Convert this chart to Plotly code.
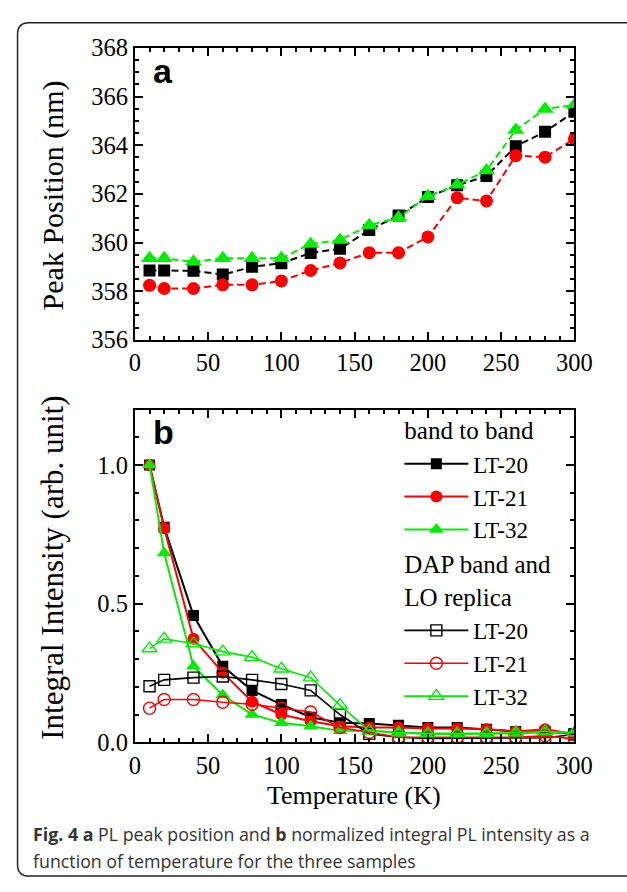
import plotly.graph_objects as go

W, H = 627, 892

temps = [10, 20, 40, 60, 80, 100, 120, 140, 160, 180, 200, 220, 240, 260, 280, 300]

# Panel a: peak position (nm)
peak_lt20 = [358.85, 358.85, 358.84, 358.68, 359.00, 359.15, 359.57, 359.74, 360.51, 361.11, 361.87, 362.35, 362.73, 363.96, 364.55, 365.38]
peak_lt21 = [358.24, 358.11, 358.11, 358.26, 358.26, 358.42, 358.85, 359.16, 359.58, 359.58, 360.23, 361.84, 361.71, 363.57, 363.51, 364.26]
peak_lt32 = [359.35, 359.35, 359.21, 359.35, 359.35, 359.35, 359.94, 360.10, 360.71, 361.03, 361.90, 362.37, 362.96, 364.63, 365.49, 365.65]

# Panel b: normalized integral intensity
band_lt20 = [1.0, 0.776, 0.457, 0.274, 0.187, 0.136, 0.090, 0.070, 0.068, 0.061, 0.053, 0.053, 0.047, 0.039, 0.039, 0.030]
band_lt21 = [1.0, 0.772, 0.373, 0.251, 0.146, 0.100, 0.076, 0.058, 0.053, 0.053, 0.050, 0.050, 0.047, 0.039, 0.047, 0.030]
band_lt32 = [1.0, 0.683, 0.274, 0.170, 0.100, 0.070, 0.058, 0.041, 0.041, 0.035, 0.030, 0.030, 0.030, 0.032, 0.035, 0.035]
dap_lt20 = [0.202, 0.225, 0.233, 0.237, 0.225, 0.210, 0.187, 0.100, 0.030, 0.018, 0.014, 0.014, 0.014, 0.014, 0.016, 0.028]
dap_lt21 = [0.123, 0.154, 0.154, 0.144, 0.137, 0.123, 0.109, 0.053, 0.035, 0.018, 0.018, 0.018, 0.018, 0.018, 0.023, 0.012]
dap_lt32 = [0.338, 0.373, 0.356, 0.327, 0.307, 0.265, 0.233, 0.134, 0.041, 0.035, 0.032, 0.032, 0.032, 0.035, 0.039, 0.035]

sample_names = ["LT-20", "LT-21", "LT-32"]
colors = ["#000000", "#ff0000", "#00ee00"]
filled_symbols = ["square", "circle", "triangle-up"]
open_symbols = ["square-open", "circle-open", "triangle-up-open"]
x_ticks = [0, 50, 100, 150, 200, 250, 300]
ya_ticks = [356, 358, 360, 362, 364, 366, 368]
yb_ticks = [0.0, 0.5, 1.0]
yb_ticklabels = ["0.0", "0.5", "1.0"]

SERIF = "Liberation Serif, Times New Roman, serif"
SANS = "Liberation Sans, Arial, sans-serif"
CAPTION_FONT = "Open Sans, Noto Sans, sans-serif"
LEG_TITLE_SIZE = 25
LEG_ITEM_SIZE = 23

def px_x(p):
    return p / W

def px_y(p):
    return 1 - p / H

fig = go.Figure()

# panel a
for name, col, sym, ys, msize in zip(sample_names, colors, filled_symbols,
                                     [peak_lt20, peak_lt21, peak_lt32], [12, 13, 15]):
    fig.add_trace(go.Scatter(
        x=temps, y=ys, mode="lines+markers", xaxis="x", yaxis="y",
        line=dict(color=col, width=2, dash="7px,4px"),
        marker=dict(symbol=sym, size=msize, color=col, line=dict(width=0)),
        showlegend=False, name=name))

# panel b - band to band
for name, col, sym, ys, msize in zip(sample_names, colors, filled_symbols,
                                     [band_lt20, band_lt21, band_lt32], [11, 12, 13]):
    fig.add_trace(go.Scatter(
        x=temps, y=ys, mode="lines+markers", xaxis="x2", yaxis="y2",
        line=dict(color=col, width=2),
        marker=dict(symbol=sym, size=msize, color=col, line=dict(width=0)),
        name=name, legendgroup="band",
        legendgrouptitle=dict(text="band to band",
                              font=dict(family=SERIF, size=LEG_TITLE_SIZE, color="black"))))

# panel b - DAP
for name, col, sym, ys, msize in zip(sample_names, colors, open_symbols,
                                     [dap_lt20, dap_lt21, dap_lt32], [11, 12, 13]):
    fig.add_trace(go.Scatter(
        x=temps, y=ys, mode="lines+markers", xaxis="x2", yaxis="y2",
        line=dict(color=col, width=1.6),
        marker=dict(symbol=sym, size=msize, color=col, line=dict(width=1.4, color=col)),
        name=name, legendgroup="dap",
        legendgrouptitle=dict(text="DAP band and<br>LO replica",
                              font=dict(family=SERIF, size=LEG_TITLE_SIZE, color="black"))))

axis_common = dict(
    showline=True, linecolor="black", linewidth=2, mirror="ticks",
    ticks="inside", ticklen=8, tickwidth=2, tickcolor="black",
    showgrid=False, zeroline=False,
    tickfont=dict(family=SERIF, size=24.5, color="black"),
)

def minor(dt):
    return dict(dtick=dt, ticklen=4, tickwidth=1.5, ticks="inside", tickcolor="black", showgrid=False)

x_dom = [px_x(134), px_x(591)]
fig.update_layout(
    width=W, height=H,
    margin=dict(l=0, r=0, t=0, b=0),
    paper_bgcolor="white", plot_bgcolor="white",
    xaxis=dict(domain=x_dom, range=[0, 300], anchor="y", tickvals=x_ticks, minor=minor(10), **axis_common),
    yaxis=dict(domain=[px_y(337), px_y(36)], range=[356, 368], anchor="x", tickvals=ya_ticks,
               minor=minor(0.5), **axis_common),
    xaxis2=dict(domain=x_dom, range=[0, 300], anchor="y2", tickvals=x_ticks, minor=minor(10), **axis_common),
    yaxis2=dict(domain=[px_y(752), px_y(409)], range=[0, 1.2], anchor="x2",
                tickvals=yb_ticks, ticktext=yb_ticklabels, minor=minor(0.1), **axis_common),
    legend=dict(x=px_x(409), y=px_y(406), xanchor="left", yanchor="top",
                bgcolor="rgba(0,0,0,0)", borderwidth=0,
                font=dict(family=SERIF, size=LEG_ITEM_SIZE, color="black"),
                traceorder="grouped", tracegroupgap=0, itemwidth=64,
                grouptitlefont=dict(family=SERIF, size=LEG_TITLE_SIZE, color="black")),
)

annotations = [
    dict(text="<b>a</b>", x=px_x(151), y=px_y(81), xanchor="left", yanchor="bottom",
         font=dict(family=SANS, size=34, color="black")),
    dict(text="<b>b</b>", x=px_x(151), y=px_y(454), xanchor="left", yanchor="bottom",
         font=dict(family=SANS, size=34, color="black")),
    dict(text="Peak Position (nm)", x=px_x(49), y=px_y(188), textangle=-90,
         xanchor="center", yanchor="middle", font=dict(family=SERIF, size=30, color="black")),
    dict(text="Integral Intensity (arb. unit)", x=px_x(49), y=px_y(572), textangle=-90,
         xanchor="center", yanchor="middle", font=dict(family=SERIF, size=31, color="black")),
    dict(text="Temperature (K)", x=px_x(362), y=px_y(807), xanchor="center", yanchor="middle",
         font=dict(family=SERIF, size=26, color="black")),
    dict(text="<b>Fig. 4 a</b> PL peak position and <b>b</b> normalized integral PL intensity as a",
         x=px_x(26), y=px_y(847), xanchor="left", yanchor="middle",
         font=dict(family=CAPTION_FONT, size=17.8, color="#333333")),
    dict(text="function of temperature for the three samples",
         x=px_x(26), y=px_y(874), xanchor="left", yanchor="middle",
         font=dict(family=CAPTION_FONT, size=17.8, color="#333333")),
]
for a in annotations:
    a.update(xref="paper", yref="paper", showarrow=False)
fig.update_layout(annotations=annotations)

# rounded frame around figure
x0 = px_x(12)
yt = px_y(10)
yb = px_y(890)
rx = 12 / W
ry = 12 / H
path = (f"M 1.05,{yt} L {x0 + rx},{yt} Q {x0},{yt} {x0},{yt - ry} "
        f"L {x0},{yb + ry} Q {x0},{yb} {x0 + rx},{yb} L 1.05,{yb}")
fig.add_shape(type="path", path=path, xref="paper", yref="paper",
              line=dict(color="#222222", width=1.5), layer="below")

fig.write_html("out.html",
               post_script="document.body.style.margin='0';document.body.style.padding='0';"
                           "document.documentElement.style.overflow='hidden';")
